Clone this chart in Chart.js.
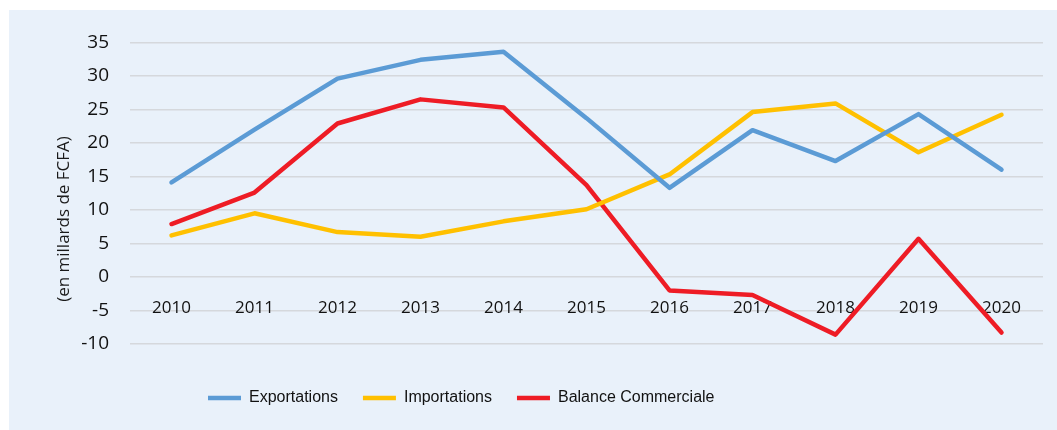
<!DOCTYPE html>
<html lang="fr">
<head>
<meta charset="UTF-8">
<title>Balance commerciale</title>
<script src="https://cdn.jsdelivr.net/npm/chart.js"></script>
<style>
  body { margin: 0; background: #ffffff; }
  #panel {
    position: absolute; left: 9px; top: 10px;
    width: 1048px; height: 420px;
    background: #e9f1fa;
  }
</style>
</head>
<body>
<div id="panel"><canvas id="chart"></canvas></div>
<script>
// data
const years = ['2010', '2011', '2012', '2013', '2014', '2015', '2016', '2017', '2018', '2019', '2020'];
const exportations = [14.1, 22.0, 29.6, 32.4, 33.6, 23.7, 13.3, 21.9, 17.3, 24.3, 16.0];
const importations = [6.2, 9.5, 6.7, 6.0, 8.3, 10.1, 15.3, 24.6, 25.9, 18.6, 24.2];
const balance = [7.9, 12.6, 22.9, 26.5, 25.3, 13.7, -2.0, -2.7, -8.6, 5.7, -8.3];
const yTitle = '(en millards de FCFA)';

const tickFont = "'Open Sans', 'Noto Sans', sans-serif";
const legendFont = "'Liberation Sans', Arial, sans-serif";

function line(label, data, color) {
  return {
    label: label,
    data: data,
    borderColor: color,
    backgroundColor: color,
    borderWidth: 4.5,
    borderCapStyle: 'round',
    borderJoinStyle: 'round',
    pointRadius: 0,
    tension: 0,
    fill: false
  };
}

// y title drawn by hand so it can sit a bit below the axis middle, like the original
const sideTitle = {
  id: 'sideTitle',
  afterDraw(chart) {
    const ctx = chart.ctx;
    ctx.save();
    ctx.translate(55, 209);
    ctx.rotate(-Math.PI / 2);
    ctx.font = "17px " + tickFont;
    ctx.fillStyle = '#1a1a1a';
    ctx.textAlign = 'center';
    ctx.textBaseline = 'middle';
    ctx.fillText(yTitle, 0, 0);
    ctx.restore();
  }
};

// legend sits left of centre and a bit lower in the original
const moveLegend = {
  id: 'moveLegend',
  beforeDraw(chart) {
    const lg = chart.legend;
    lg.left = 174;
    lg.top = 355;
    lg.bottom = chart.height;
    lg.height = lg.bottom - lg.top;
  }
};

new Chart(document.getElementById('chart'), {
  type: 'line',
  data: {
    labels: years,
    datasets: [
      line('Exportations', exportations, '#5b9bd5'),
      line('Importations', importations, '#ffc000'),
      line('Balance Commerciale', balance, '#ee1c25')
    ]
  },
  options: {
    responsive: true,
    maintainAspectRatio: false,
    animation: false,
    layout: { padding: { top: 31, right: 14, bottom: 35, left: 0 } },
    plugins: {
      tooltip: { enabled: false },
      legend: {
        position: 'bottom',
        align: 'start',
        labels: {
          usePointStyle: true,
          pointStyle: 'line',
          pointStyleWidth: 33,
          padding: 25,
          color: '#111111',
          font: { family: legendFont, size: 16 }
        }
      }
    },
    scales: {
      x: {
        position: { y: 0 },
        offset: true,
        afterFit: s => { s.height = 0; },
        grid: { display: false, drawTicks: false },
        border: { display: false },
        ticks: {
          padding: 21,
          color: '#111111',
          font: { family: tickFont, size: 17 },
          maxRotation: 0
        }
      },
      y: {
        min: -10,
        max: 35,
        afterFit: s => { s.width = 121; },
        grid: { color: '#d5d8dc', lineWidth: 1.5, drawTicks: false },
        border: { display: false },
        ticks: {
          stepSize: 5,
          padding: 21,
          color: '#111111',
          font: { family: tickFont, size: 19 }
        }
      }
    }
  },
  plugins: [sideTitle, moveLegend]
});
</script>
</body>
</html>
